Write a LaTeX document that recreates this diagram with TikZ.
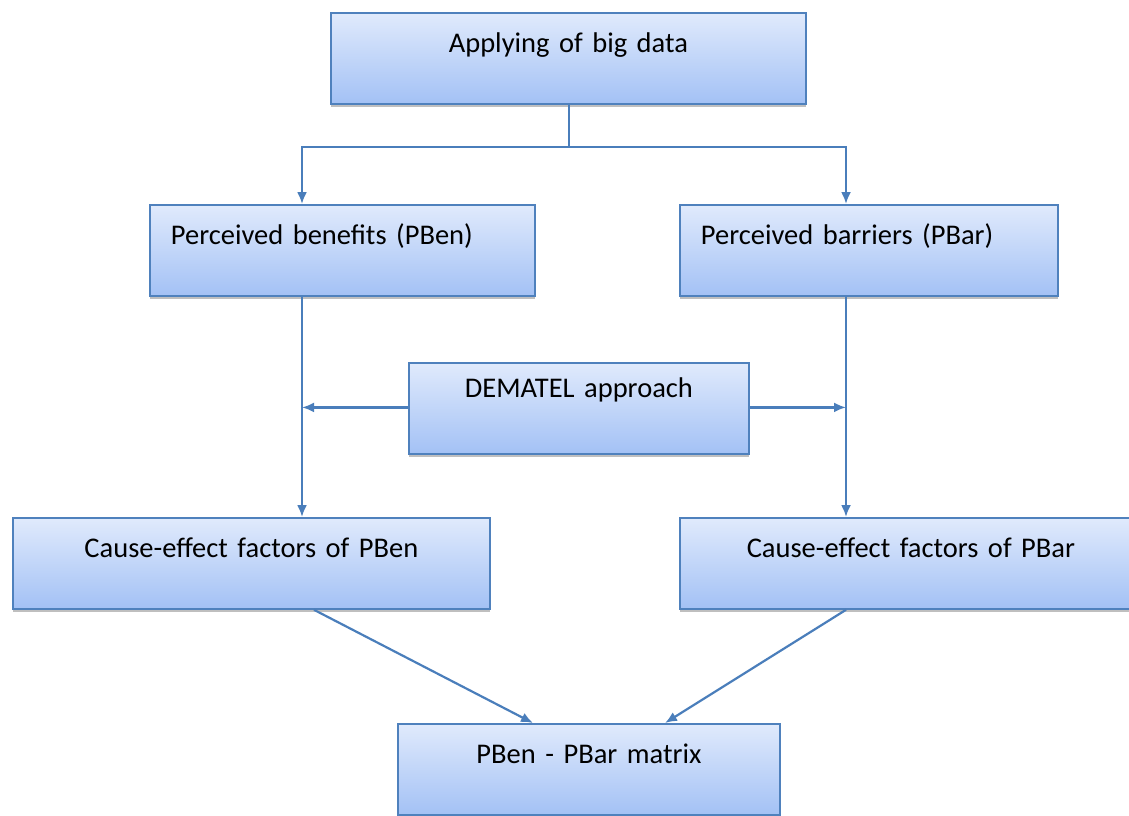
\documentclass[tikz,border=0pt]{standalone}
\usepackage{fontspec}
\setmainfont{Carlito}
\usetikzlibrary{arrows.meta,shadows}
\definecolor{edge}{HTML}{4F81BD}
\definecolor{topc}{HTML}{E0EAFC}
\definecolor{botc}{HTML}{A3C1F5}
\definecolor{line}{HTML}{4A7EBB}
\tikzset{
  box/.style={draw=edge, line width=1.8pt, top color=topc, bottom color=botc,
    drop shadow={shadow xshift=0pt, shadow yshift=-3.5pt, fill=black!25, opacity=1},
    anchor=north west, inner xsep=0pt, inner ysep=0pt, font=\fontsize{28.5}{32}\selectfont,
    text height=40pt, text depth=51pt},
  conn/.style={draw=line, line width=2.2pt, -{Latex[length=12pt,width=10pt]}},
  plain/.style={draw=line, line width=2.2pt}
}
\begin{document}
\begin{tikzpicture}[x=1pt,y=-1pt]
\useasboundingbox (0,0) rectangle (1129,815);
\node[box, minimum width=475pt, text width=475pt, align=center] (top) at (330,12) {Applying of big data};
\node[box, minimum width=385pt, text width=385pt, align=left] (pben) at (149,204) {\hspace*{21pt}Perceived benefits (PBen)};
\node[box, minimum width=378pt, text width=378pt, align=left] (pbar) at (679,204) {\hspace*{21pt}Perceived barriers (PBar)};
\node[box, minimum width=340pt, text width=340pt, align=center, text height=35pt, text depth=56pt] (dem) at (408,362) {DEMATEL approach};
\node[box, minimum width=477pt, text width=477pt, align=center, text height=40pt, text depth=51pt] (cben) at (12,517) {Cause-effect factors of PBen};
\node[box, minimum width=462pt, text width=462pt, align=center, text height=40pt, text depth=51pt] (cbar) at (679,517) {Cause-effect factors of PBar};
\node[box, minimum width=382pt, text width=382pt, align=center, text height=40pt, text depth=51pt] (mat) at (397,723) {PBen - PBar matrix};
% connectors
\coordinate (j) at (569,147);
\draw[plain] (top.south -| j) -- (j);
\draw[conn] (j) -| (pben.north -| 302,0);
\draw[conn] (j) -| (pbar.north -| 846,0);
\draw[conn] (pben.south -| 302,0) -- (cben.north -| 302,0);
\draw[conn] (pbar.south -| 846,0) -- (cbar.north -| 846,0);
\draw[conn] (dem.west) ++(0,-1) coordinate (dl) (dl) -- (dl -| 302,0);
\draw[conn] (dem.east) ++(0,-1) coordinate (dr) (dr) -- (dr -| 846,0);
\draw[conn] (cben.south -| 314,0) -- (mat.north -| 533,0);
\draw[conn] (cbar.south -| 846,0) -- (mat.north -| 665,0);
\end{tikzpicture}
\end{document}
